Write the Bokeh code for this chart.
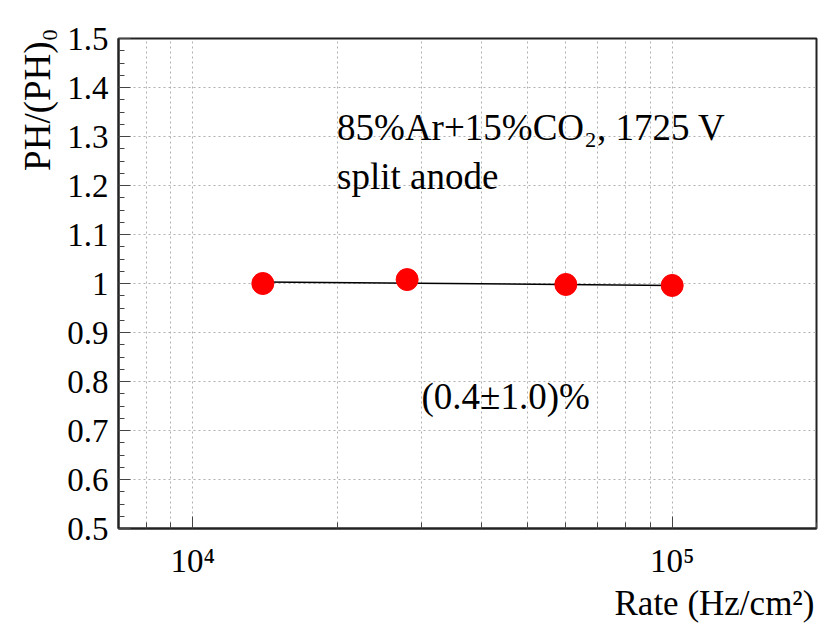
from bokeh.plotting import figure
from bokeh.models import FixedTicker, SingleIntervalTicker, CustomJSTickFormatter, Label, Range1d, Title
from bokeh.embed import file_html
from bokeh.resources import INLINE

# ---- data ----
rate = [14000, 28000, 60000, 100000]
ph_ratio = [1.000, 1.008, 0.998, 0.996]
fit_rate = [14000, 100000]
fit_ph = [1.003, 0.996]
x_major_ticks = [10000, 100000]
x_minor_ticks = [8000, 9000, 20000, 30000, 40000, 50000, 60000, 70000, 80000, 90000, 200000]
x_tick_labels = {10000: "10\u2074", 100000: "10\u2075"}
notes_text = ["85%Ar+15%CO\u2082, 1725 V", "split anode", "(0.4\u00b11.0)%"]
notes_x = [20000, 20000, 30000]
notes_y = [1.318, 1.219, 0.769]
x_title = "Rate (Hz/cm\u00b2)"
y_title = "PH/(PH)\u2080"

FONT = "Liberation Serif"
X_START, X_END = 7000, 200000
Y_START, Y_END = 0.5, 1.5

p = figure(width=818, height=628, x_axis_type="log",
           x_range=Range1d(X_START, X_END), y_range=Range1d(Y_START, Y_END),
           output_backend="svg", toolbar_location=None,
           min_border_left=118, min_border_right=2, min_border_top=38, min_border_bottom=100)
p.background_fill_color = "white"
p.border_fill_color = "white"
p.outline_line_color = "#222222"
p.outline_line_width = 2

# axes
p.xaxis.ticker = FixedTicker(ticks=x_major_ticks, minor_ticks=x_minor_ticks)
p.xaxis.major_label_overrides = x_tick_labels
p.yaxis.ticker = SingleIntervalTicker(interval=0.1, num_minor_ticks=4)
p.yaxis.formatter = CustomJSTickFormatter(code="return (Math.round(tick*10)/10).toString();")

for ax in (p.xaxis[0], p.yaxis[0]):
    ax.axis_line_color = "#222222"
    ax.axis_line_width = 2
    ax.major_tick_in = 12
    ax.major_tick_out = 0
    ax.minor_tick_in = 6
    ax.minor_tick_out = 0
    ax.major_tick_line_color = "#444444"
    ax.minor_tick_line_color = "#444444"
    ax.major_label_text_font = FONT
    ax.major_label_text_font_size = "33px"
    ax.major_label_text_color = "black"

p.xaxis.major_label_standoff = 14
p.yaxis.major_label_standoff = 10

# grid
g = p.xgrid[0]
g.grid_line_color = "#b0b0b0"
g.grid_line_dash = "2 3"
g.grid_line_width = 1
g.minor_grid_line_color = "#b0b0b0"
g.minor_grid_line_dash = "2 3"
g.minor_grid_line_width = 1
p.ygrid.grid_line_color = "#b0b0b0"
p.ygrid.grid_line_dash = "2 3"
p.ygrid.grid_line_width = 1

# data
p.line(fit_rate, fit_ph, line_color="black", line_width=1.5)
p.scatter(rate, ph_ratio, size=22, fill_color="#ff0000", line_color="#ff0000")

for t, x, y in zip(notes_text, notes_x, notes_y):
    p.add_layout(Label(x=x, y=y, text=t, text_font=FONT, text_font_size="37px",
                       text_color="black", text_baseline="alphabetic", text_align="left"))

# axis titles placed at the far ends of the axes
p.add_layout(Title(text=x_title, align="right", text_font=FONT, text_font_size="35px",
                   text_font_style="normal", text_color="black", standoff=0, offset=2), "below")
p.add_layout(Title(text=y_title, align="right", text_font=FONT, text_font_size="37px",
                   text_font_style="normal", text_color="black", standoff=14, offset=-10), "left")

open("out.html", "w").write(file_html(p, INLINE))
